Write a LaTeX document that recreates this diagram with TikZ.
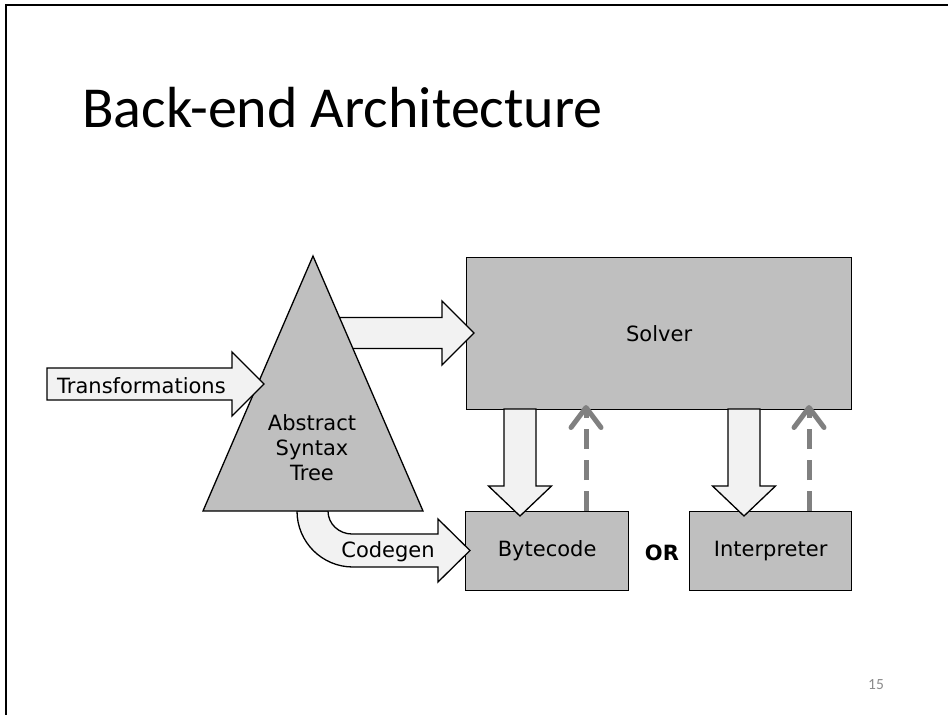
\documentclass[tikz,border=0pt]{standalone}
\usepackage{fontspec}
\setmainfont{DejaVu Sans}
\newfontfamily\titlefont{Carlito}
\usetikzlibrary{calc,arrows.meta}

\definecolor{boxgray}{HTML}{BFBFBF}
\definecolor{arrowfill}{HTML}{F2F2F2}
\definecolor{dashgray}{HTML}{808080}
\definecolor{pagegray}{HTML}{8C8C8C}

\tikzset{
  body/.style={font=\fontsize{21}{25}\selectfont},
  box/.style={body, draw=black, fill=boxgray, line width=1.3pt, inner sep=0pt},
  blockarr/.style={draw=black, fill=arrowfill, line width=1.3pt, line join=miter},
  backflow/.style={draw=dashgray, line width=5pt, dash pattern=on 20pt off 11pt,
    -{Straight Barb[length=20pt,width=30pt,line cap=round,line join=round]}},
  frameline/.style={draw=black, line width=2.4pt}
}

% wide arrow with a shaft and a triangular head:
% #1 start, #2 tip, #3 half shaft width, #4 half head width, #5 head length
\newcommand\blockarrow[5]{%
  \coordinate (hb) at ($(#2)!#5!(#1)$);
  \draw[blockarr] ($(#1)!#3!90:(#2)$) -- ($(hb)!#3!-90:(#1)$) -- ($(hb)!#4!-90:(#1)$)
    -- (#2) -- ($(hb)!#4!90:(#1)$) -- ($(hb)!#3!90:(#1)$) -- ($(#1)!#3!-90:(#2)$) -- cycle;}

\begin{document}
\begin{tikzpicture}[x=1pt, y=-1pt]
  \useasboundingbox (0,0) rectangle (948,715);
  \fill[white] (0,0) rectangle (948,715);

  % slide frame
  \draw[frameline] (6,715) -- (6,5) -- (948,5);

  % title and page number
  \node[anchor=base west, inner sep=0pt, font=\titlefont\fontsize{58}{62}\selectfont] (title) at (82,127) {Back-end Architecture};
  \node[anchor=center, inner sep=0pt, text=pagegray, font=\titlefont\fontsize{15.5}{18}\selectfont] (page) at (876,685) {15};

  % boxes
  \node[box, anchor=north west, minimum width=385pt, minimum height=152pt] (solver) at (466,257) {Solver};
  \node[box, anchor=north west, minimum width=163pt, minimum height=79pt] (byte) at (465,511) {Bytecode};
  \node[box, anchor=north west, minimum width=162pt, minimum height=79pt] (interp) at (689,511) {Interpreter};
  \node[font=\fontsize{21}{25}\selectfont\bfseries, inner sep=0pt] (or) at (662,553) {OR};

  % arrow from the tree to the solver (starts behind the triangle)
  \coordinate (astOut) at (330,333);
  \coordinate (solverIn) at (474,333);
  \blockarrow{astOut}{solverIn}{15.5pt}{32pt}{32pt}

  % codegen arrow bending out of the tree's base
  \draw[blockarr] (297,511) .. controls (297,542) and (322,567) .. (353,567)
    -- (438,567) -- (438,582) -- (470,550.5) -- (438,519) -- (438,534) -- (352,534)
    .. controls (339,534) and (328,524) .. (328,511) -- cycle;
  \node[body, inner sep=0pt] (codegen) at (388,552) {Codegen};

  % abstract syntax tree
  \coordinate (apex) at (313,256);
  \coordinate (baseL) at (203,511);
  \coordinate (baseR) at (423,511);
  \draw[fill=boxgray, line width=1.3pt, line join=miter] (apex) -- (baseR) -- (baseL) -- cycle;
  \node[body, align=center, inner sep=0pt] (ast) at (312,448) {Abstract\\Syntax\\Tree};

  % transformations arrow
  \coordinate (trIn) at (47,384);
  \coordinate (trTip) at (264,384);
  \blockarrow{trIn}{trTip}{16pt}{32pt}{32pt}
  \node[body, anchor=west, inner sep=0pt] (transf) at (57,386) {Transformations};

  % solver down to the two back ends
  \coordinate (sb) at (520,409);
  \coordinate (bt) at (520,516);
  \blockarrow{sb}{bt}{16pt}{31.5pt}{30pt}
  \coordinate (si) at (744,409);
  \coordinate (it) at (744,516);
  \blockarrow{si}{it}{16pt}{31.5pt}{30pt}

  % results flowing back up
  \draw[backflow] (586,511) -- (586,405);
  \draw[backflow] (809,511) -- (809,405);
\end{tikzpicture}
\end{document}
